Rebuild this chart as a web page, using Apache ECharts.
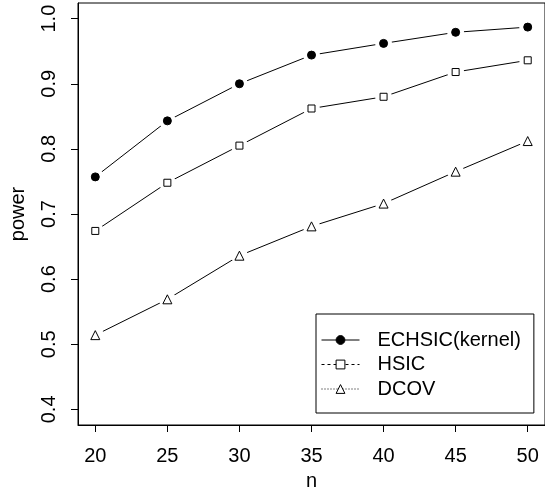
<!DOCTYPE html>
<html>
<head>
<meta charset="utf-8">
<script src="https://cdn.jsdelivr.net/npm/echarts@6/dist/echarts.min.js"></script>
<style>html,body{margin:0;padding:0;background:#fff}#c{width:545px;height:496px}</style>
</head>
<body>
<div id="c"></div>
<script>
const nValues = [20, 25, 30, 35, 40, 45, 50];
const echsic = [0.757, 0.843, 0.900, 0.944, 0.962, 0.979, 0.987];
const hsic = [0.674, 0.748, 0.805, 0.862, 0.880, 0.918, 0.936];
const dcov = [0.514, 0.569, 0.636, 0.681, 0.716, 0.765, 0.812];
const seriesNames = ['ECHSIC(kernel)', 'HSIC', 'DCOV'];
const xTicks = [20, 25, 30, 35, 40, 45, 50];
const yTicks = [0.4, 0.5, 0.6, 0.7, 0.8, 0.9, 1.0];

const FONT = 'Liberation Sans';
const pairs = arr => nValues.map((n, i) => [n, arr[i]]);
const groups = [
  {name: seriesNames[0], data: echsic, symbol: 'circle', size: 8, fill: '#000', dash: 'solid'},
  {name: seriesNames[1], data: hsic, symbol: 'rect', size: 7, fill: '#fff', dash: [3, 3]},
  {name: seriesNames[2], data: dcov, symbol: 'triangle', size: 9, fill: '#fff', dash: [1, 2]}
];
const series = [];
groups.forEach(g => {
  series.push({
    type: 'line', name: g.name + ' line', data: pairs(g.data), silent: true,
    symbol: 'none', showSymbol: false,
    lineStyle: {color: '#000', width: 1}, z: 2, animation: false
  });
  series.push({
    type: 'scatter', name: g.name + ' gap', data: pairs(g.data), silent: true,
    symbol: 'circle', symbolSize: 17,
    itemStyle: {color: '#ffffff', borderWidth: 0, opacity: 1}, z: 3, animation: false
  });
  series.push({
    type: 'scatter', name: g.name + ' pts', data: pairs(g.data), silent: true,
    symbol: g.symbol, symbolSize: g.size,
    itemStyle: {color: g.fill, borderColor: '#000', borderWidth: 1, opacity: 1}, z: 4, animation: false
  });
  series.push({
    type: 'line', name: g.name, data: [], symbol: g.symbol, symbolSize: g.size,
    itemStyle: {color: g.fill, borderColor: '#000', borderWidth: 1},
    lineStyle: {color: '#000', width: 1, type: g.dash}, animation: false
  });
});

const chart = echarts.init(document.getElementById('c'), null, {renderer: 'canvas'});
chart.setOption({
  animation: false,
  backgroundColor: '#fff',
  grid: {left: 77, top: 3, width: 475, height: 425, show: true, borderColor: '#000', borderWidth: 1, containLabel: false},
  xAxis: {
    type: 'value', min: 18.8, max: 51.2,
    name: 'n', nameLocation: 'middle', nameGap: 46,
    nameTextStyle: {fontFamily: FONT, fontSize: 20, color: '#000'},
    axisLine: {show: true, lineStyle: {color: '#000', width: 1}},
    axisTick: {show: true, length: 7, lineStyle: {color: '#000'}, customValues: xTicks},
    axisLabel: {fontFamily: FONT, fontSize: 20, color: '#000', margin: 21, customValues: xTicks},
    splitLine: {show: false}
  },
  yAxis: {
    type: 'value', min: 0.376, max: 1.024,
    name: 'power', nameLocation: 'middle', nameGap: 50, nameRotate: 90,
    nameTextStyle: {fontFamily: FONT, fontSize: 20, color: '#000'},
    axisLine: {show: true, lineStyle: {color: '#000', width: 1}},
    axisTick: {show: true, length: 7, lineStyle: {color: '#000'}, customValues: yTicks},
    axisLabel: {fontFamily: FONT, fontSize: 20, color: '#000', margin: 19, rotate: 90,
      customValues: yTicks, formatter: v => v.toFixed(1)},
    splitLine: {show: false}
  },
  legend: {
    data: seriesNames, orient: 'vertical', left: 316, top: 314,
    padding: [16, 13, 14, 5], itemGap: 4.5, itemWidth: 38, itemHeight: 11,
    borderColor: '#000', borderWidth: 1, backgroundColor: '#fff',
    selectedMode: false,
    itemStyle: {borderWidth: 1},
    lineStyle: {width: 1},
    textStyle: {fontFamily: FONT, fontSize: 20, color: '#000', padding: [0, 0, 0, 13]}
  },
  series: series
});
</script>
</body>
</html>
